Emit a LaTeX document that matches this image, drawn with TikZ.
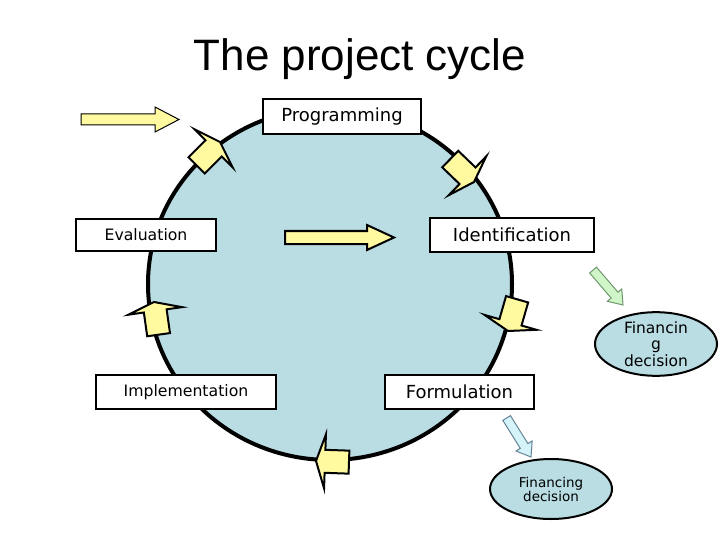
\documentclass[tikz,border=0pt]{standalone}
\usepackage{fontspec}
\setmainfont{DejaVu Sans}
\newfontfamily\titlefont{Liberation Sans}
\usetikzlibrary{shapes.geometric}
\definecolor{cycleblue}{RGB}{185,221,227}
\definecolor{pyellow}{RGB}{255,250,160}
\definecolor{pgreen}{RGB}{208,245,200}
\definecolor{pgreenline}{RGB}{110,150,110}
\definecolor{pcyan}{RGB}{212,244,250}
\definecolor{pcyanline}{RGB}{100,130,150}
\tikzset{
  stagebox/.style={draw, fill=white, line width=2pt, inner sep=0pt, font=\fontsize{18}{20}\selectfont},
  stageboxsmall/.style={stagebox, font=\fontsize{15.7}{18}\selectfont},
  cyclemarkstyle/.style={fill=pyellow, draw=black, line width=2pt, line join=miter},
  bigarrow/.style={fill=pyellow, draw=black},
  finell/.style={ellipse, draw, fill=cycleblue, line width=2pt, inner sep=0pt, align=center},
  cyclemark/.pic={\path[cyclemarkstyle] (0,0) -- (-9,27) -- (-9,11.5) -- (-33,11.5) -- (-33,-11.5) -- (-9,-11.5) -- (-9,-27) -- cycle;},
  thinarrow/.pic={\path[pic actions] (0,0) -- (-13,-9.5) -- (-13,-4.5) -- (-46,-4.5) -- (-46,4.5) -- (-13,4.5) -- (-13,9.5) -- cycle;}
}
\begin{document}
\begin{tikzpicture}[x=1pt,y=-1pt]
\useasboundingbox (0,0) rectangle (720,540);
% title
\node[font=\titlefont\fontsize{44}{50}\selectfont, inner sep=0pt] (title) at (360,59) {The project cycle};
% big cycle
\node[ellipse, draw, line width=4pt, fill=cycleblue, minimum width=364pt, minimum height=352pt, inner sep=0pt] (ring) at (330,284) {};
% stage boxes
\node[stagebox, minimum width=158pt, minimum height=35pt] (prog) at (342,116.5) {Programming};
\node[stageboxsmall, minimum width=140pt, minimum height=32pt] (eval) at (146,235) {Evaluation};
\node[stagebox, minimum width=164pt, minimum height=34pt] (ident) at (512,235) {Identification};
\node[stageboxsmall, minimum width=180pt, minimum height=34pt] (impl) at (186,392) {Implementation};
\node[stagebox, minimum width=149pt, minimum height=34pt] (form) at (459.5,392) {Formulation};
% yellow block arrows
\path[bigarrow, line width=1pt] (81,114) -- (155,114) -- (155,107) -- (179,119.5) -- (155,132) -- (155,125) -- (81,125) -- cycle;
\path[bigarrow, line width=2pt] (285,231) -- (367,231) -- (367,225) -- (394,237.5) -- (367,250) -- (367,244) -- (285,244) -- cycle;
% markers on the cycle
\pic[rotate=45] at (220,142) {cyclemark};
\pic[rotate=-44] at (474,182) {cyclemark};
\pic[rotate=-106] at (508,331) {cyclemark};
\pic[rotate=98] at (154,302) {cyclemark};
\pic[rotate=178] at (316,461) {cyclemark};
% financing decision ellipses
\node[finell, minimum width=122pt, minimum height=60pt, font=\fontsize{15.5}{16.5}\selectfont] (fin1) at (656,344) {Financin\\g\\decision};
\node[finell, minimum width=122pt, minimum height=60pt, font=\fontsize{13.5}{14}\selectfont] (fin2) at (551,489) {Financing\\decision};
% small pointing arrows
\pic[rotate=-49.4, fill=pgreen, draw=pgreenline, line width=1pt] at (623,305) {thinarrow};
\pic[rotate=-58, fill=pcyan, draw=pcyanline, line width=1pt] at (531,457) {thinarrow};
\end{tikzpicture}
\end{document}
